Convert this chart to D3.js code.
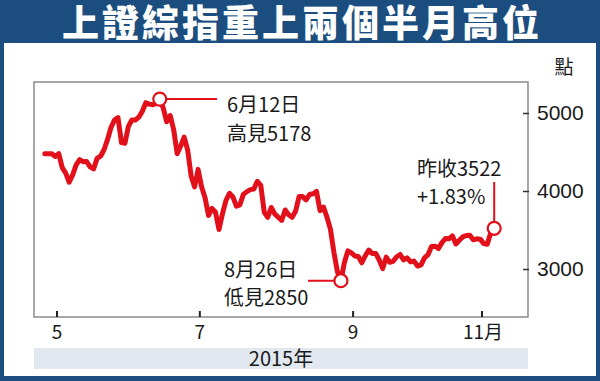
<!DOCTYPE html>
<html><head><meta charset="utf-8">
<script src="https://cdn.jsdelivr.net/npm/d3@7"></script>
<style>
html,body{margin:0;padding:0;background:#fff;}
#wrap{position:relative;width:600px;height:381px;}
svg{display:block;}
text{font-family:"Liberation Sans Narrow","Noto Sans CJK TC",sans-serif;fill:#1a1a1a;}
</style></head>
<body>
<div id="wrap"><svg id="c" width="600" height="381"></svg></div>
<script>
const title = "上證綜指重上兩個半月高位";
const unitLabel = "點";
const yearLabel = "2015年";
const dates = ["4/27","4/28","4/29","4/30",
"5/4","5/5","5/6","5/7","5/8","5/11","5/12","5/13","5/14","5/15","5/18","5/19","5/20","5/21","5/22","5/25","5/26","5/27","5/28","5/29",
"6/1","6/2","6/3","6/4","6/5","6/8","6/9","6/10","6/11","6/12","6/15","6/16","6/17","6/18","6/19","6/23","6/24","6/25","6/26","6/29","6/30",
"7/1","7/2","7/3","7/6","7/7","7/8","7/9","7/10","7/13","7/14","7/15","7/16","7/17","7/20","7/21","7/22","7/23","7/24","7/27","7/28","7/29","7/30","7/31",
"8/3","8/4","8/5","8/6","8/7","8/10","8/11","8/12","8/13","8/14","8/17","8/18","8/19","8/20","8/21","8/24","8/25","8/26","8/27","8/28","8/31",
"9/1","9/2","9/7","9/8","9/9","9/10","9/11","9/14","9/15","9/16","9/17","9/18","9/21","9/22","9/23","9/24","9/25","9/28","9/29","9/30",
"10/8","10/9","10/12","10/13","10/14","10/15","10/16","10/19","10/20","10/21","10/22","10/23","10/26","10/27","10/28","10/29","10/30",
"11/2","11/3","11/4","11/5"];
const closes = [4476,4476,4477,4442,
4480,4299,4229,4112,4206,4334,4401,4376,4378,4309,4283,4418,4446,4529,4658,4814,4911,4942,4620,4612,
4829,4911,4910,4947,5023,5132,5114,5106,5122,5178,5063,4887,4968,4785,4478,4576,4690,4528,4193,4053,4277,
4054,3913,3687,3776,3727,3507,3709,3878,3970,3924,3806,3823,3957,3992,4018,4026,4124,4071,3726,3663,3789,3706,3664,
3623,3757,3695,3662,3744,3928,3928,3886,3955,3965,3994,3748,3794,3664,3508,3210,2965,2850,3084,3232,3206,
3167,3160,3080,3170,3243,3198,3200,3115,3005,3152,3086,3098,3157,3186,3116,3143,3092,3101,3038,3053,
3143,3183,3288,3293,3262,3338,3391,3387,3425,3321,3369,3412,3430,3434,3375,3387,3383,
3325,3317,3460,3522];
const tickMonths = [5,7,9,11];
const tickLabels = ["5","7","9","11月"];
const yTicks = [3000,4000,5000];
const annotations = [
  {date:"6/12", lines:["6月12日","高見5178"]},
  {date:"8/26", lines:["8月26日","低見2850"]},
  {date:"11/5", lines:["昨收3522","+1.83%"]}
];

const red = "#e2101b", blue = "#1b4e7e";
const svg = d3.select("#c");
// frame
svg.append("rect").attr("x",0).attr("y",0).attr("width",600).attr("height",381).attr("fill",blue);
svg.append("rect").attr("x",4).attr("y",43).attr("width",592).attr("height",333).attr("fill","#fff");
d3.select("#wrap").append("div")
  .style("position","absolute").style("left","0px").style("top","0px")
  .style("width","600px").style("height","43px").style("line-height","43px")
  .style("overflow","visible").style("text-align","center").style("padding-left","4px").style("box-sizing","border-box")
  .style("font-family","'Noto Sans CJK TC',sans-serif").style("font-weight","900")
  .style("font-size","37px").style("letter-spacing","3px").style("color","#fff").style("white-space","nowrap")
  .text(title);

const L=34,T=82,R=528,B=317;
const data = dates.map((d,i)=>({i, m:+d.split("/")[0], d, v:closes[i]}));
const monthStart = m => data.findIndex(p=>p.m===m) - 0.5;
const x = d3.scaleLinear().domain([monthStart(5), monthStart(11)]).range([57,482]);
const y = d3.scaleLinear().domain([3000,5000]).range([269,113]);

// band
svg.append("rect").attr("x",L).attr("y",348).attr("width",R-L).attr("height",21).attr("fill","#e1e8f0");
svg.append("text").attr("x",(L+R)/2).attr("y",366).attr("text-anchor","middle").style("font-size","20px").text(yearLabel);

// plot box
svg.append("path").attr("d",`M${L},${B}V${T}H${R}V${B}Z`).attr("fill","none").attr("stroke","#8a8a8a").attr("stroke-width",1.5);

// y axis ticks (right)
const yAxis = d3.axisRight(y).tickValues(yTicks).tickSize(0).tickPadding(9).tickFormat(d3.format("d"));
const ga = svg.append("g").attr("transform",`translate(${R},0)`).call(yAxis);
ga.select(".domain").remove();
ga.selectAll("text").style("font-size","21px").style("font-family","'Liberation Sans Narrow',sans-serif").attr("fill","#1a1a1a");
ga.selectAll(".tick").append("line").attr("x1",-5).attr("x2",1).attr("stroke","#333").attr("stroke-width",1.5);
svg.append("text").attr("x",564).attr("y",74).attr("text-anchor","middle").style("font-size","19px").text(unitLabel);

// x ticks
const gx = svg.append("g");
tickMonths.forEach((m,k)=>{
  const xx = x(monthStart(m));
  gx.append("line").attr("x1",xx).attr("x2",xx).attr("y1",B).attr("y2",B-6).attr("stroke","#222").attr("stroke-width",2);
  gx.append("text").attr("x",xx+(k===3?1:0)).attr("y",339).attr("text-anchor","middle").style("font-size","19px").text(tickLabels[k]);
});

// line
const line = d3.line().x(p=>x(p.i)).y(p=>y(p.v));
svg.append("path").datum(data).attr("d",line).attr("fill","none").attr("stroke",red)
  .attr("stroke-width",5).attr("stroke-linejoin","round").attr("stroke-linecap","round");

// annotations
const pt = dd => data.find(p=>p.d===dd);
const a0 = pt(annotations[0].date), a1 = pt(annotations[1].date), a2 = pt(annotations[2].date);
svg.append("line").attr("x1",x(a0.i)).attr("x2",217).attr("y1",y(a0.v)).attr("y2",y(a0.v)).attr("stroke",red).attr("stroke-width",2);
svg.append("line").attr("x1",308).attr("x2",x(a1.i)).attr("y1",y(a1.v)).attr("y2",y(a1.v)).attr("stroke",red).attr("stroke-width",2);
svg.append("line").attr("x1",x(a2.i)).attr("x2",x(a2.i)).attr("y1",182).attr("y2",y(a2.v)).attr("stroke",red).attr("stroke-width",2);
[a0,a1,a2].forEach(p=>{
  svg.append("circle").attr("cx",x(p.i)).attr("cy",y(p.v)).attr("r",6.5).attr("fill","#fff").attr("stroke",red).attr("stroke-width",2.2);
});
const txtPos = [[227,112,141],[224,277,305],[417,176,204]];
annotations.forEach((a,k)=>{
  const [tx,y1,y2] = txtPos[k];
  svg.append("text").attr("x",tx).attr("y",y1).style("font-size","20px").text(a.lines[0]);
  svg.append("text").attr("x",tx).attr("y",y2).style("font-size","20px").text(a.lines[1]);
});
</script>
</body></html>
